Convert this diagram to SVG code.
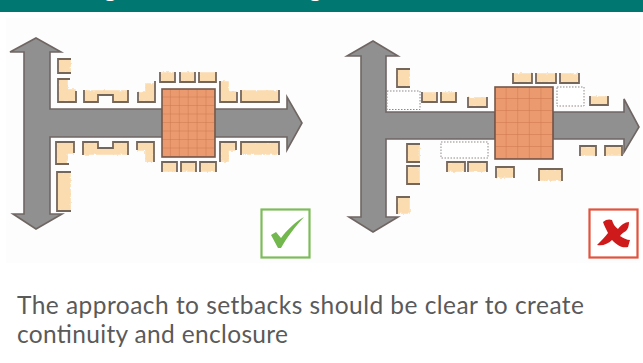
<svg xmlns="http://www.w3.org/2000/svg" width="643" height="363" viewBox="0 0 643 363">
<style>
.road{fill:#909090;stroke:#6f6663;stroke-width:1.6;stroke-linejoin:miter}
.f path{fill:#fbdcb0;stroke:#fbdcb0;stroke-width:1.6}
.s path{fill:none;stroke:#75665c;stroke-width:1.8;stroke-linejoin:miter}
.d{fill:#fff;stroke:#8f8a88;stroke-width:1;stroke-dasharray:1.5 1.5}
.sq{stroke:#75584a;stroke-width:1.6}
.t{font-family:"Lato","Liberation Sans",sans-serif;font-size:24.5px;fill:#5a5a5a}
</style>
<defs>
<filter id="rough" x="-5%" y="-5%" width="110%" height="110%"><feTurbulence type="fractalNoise" baseFrequency="0.3" numOctaves="2" seed="4"/><feDisplacementMap in="SourceGraphic" scale="3" xChannelSelector="R" yChannelSelector="G"/></filter>
<pattern id="g1" patternUnits="userSpaceOnUse" x="162" y="89" width="8.9" height="8.5"><rect width="8.9" height="8.5" fill="#ea9a6e"/><path d="M8.9,0V8.5M0,8.5H8.9" stroke="#c9714c" stroke-width="0.9"/></pattern>
<pattern id="g2" patternUnits="userSpaceOnUse" x="495" y="87" width="11.6" height="12"><rect width="11.6" height="12" fill="#ea9a6e"/><path d="M11.6,0V12M0,12H11.6" stroke="#c9714c" stroke-width="0.9"/></pattern>
</defs>
<rect width="643" height="363" fill="#fff"/>
<rect x="6" y="18" width="634" height="245" fill="#fdfdfd"/>
<rect id="header" width="643" height="12" fill="#007770"/>
<text x="104" y="-3" font-family="Lato,sans-serif" font-size="24" font-weight="700" fill="#fff">g</text>
<text x="309" y="-3" font-family="Lato,sans-serif" font-size="24" font-weight="700" fill="#fff">g</text>

<g id="left-plan">
<path id="left-road" class="road" d="M36,38 L61,52 H50 V109 H287 V97 L302,123 L287,150 V137 H50 V214 H62 L36,229 L13,214 H24 V52 H10 Z"/>
<rect id="left-block" class="sq" x="162" y="89" width="53" height="68" fill="url(#g1)"/>
<g id="left-building-fills" class="f" filter="url(#rough)">
<path d="M59,60 H70 V72 H59 Z"/>
<path d="M59,80 H67 V90 H75 V101 H59 Z"/>
<path d="M85,91 H127 V101 H114 V94 H97 V101 H85 Z"/>
<path d="M139,92 H146 V84 H154 V101 H139 Z"/>
<path d="M161,73 H174 V81 H161 Z"/>
<path d="M181,73 H194 V81 H181 Z"/>
<path d="M200,73 H215 V81 H200 Z"/>
<path d="M221,82 H228 V92 H236 V101 H221 Z"/>
<path d="M242,91 H278 V101 H242 Z"/>
<path d="M57,143 H73 V153 H67 V163 H57 Z"/>
<path d="M58,173 H70 V210 H58 Z"/>
<path d="M84,143 H97 V149 H114 V143 H127 V154 H84 Z"/>
<path d="M138,143 H153 V161 H146 V150 H138 Z"/>
<path d="M221,143 H235 V150 H228 V161 H221 Z"/>
<path d="M242,143 H278 V154 H242 Z"/>
<path d="M163,163 H176 V171 H163 Z"/>
<path d="M182,163 H195 V171 H182 Z"/>
<path d="M201,163 H215 V171 H201 Z"/>
</g>
<g id="left-building-outlines" class="s">
<path d="M71,59 H58 V73 H71"/>
<path d="M70,79 H58 V102 H76 V91"/>
<path d="M84,90 V102 H98 V95 H113 V102 H128 V90"/>
<path d="M138,92 V102 H155 V81"/>
<path d="M160,72 V82 H175 V72"/>
<path d="M180,72 V82 H195 V72"/>
<path d="M199,72 V82 H216 V72"/>
<path d="M220,81 V102 H237 V92"/>
<path d="M241,90 V102 H279 V90"/>
<path d="M74,153 V142 H56 V164 H69"/>
<path d="M71,172 H57 V211 H71"/>
<path d="M83,155 V142 H98 V148 H113 V142 H128 V155"/>
<path d="M137,150 V142 H154 V162"/>
<path d="M220,162 V142 H236 V150"/>
<path d="M241,155 V142 H279 V155"/>
<path d="M162,172 V162 H177 V172"/>
<path d="M181,172 V162 H196 V172"/>
<path d="M200,172 V162 H216 V172"/>
</g>
</g>

<g id="right-plan">
<path id="right-road" class="road" d="M373,41 L398,56 H386 V112 H495 V139 H386 V217 H398 L373,232 L349,217 H361 V56 H347 Z"/>
<path class="road" d="M553,112 H624 V99 L639,127 L624,152 V139 H553 Z"/>
<rect id="right-block" class="sq" x="495" y="87" width="58" height="72" fill="url(#g2)"/>
<rect class="d" x="387" y="91" width="33" height="18.500"/>
<rect class="d" x="557" y="87" width="27" height="19"/>
<rect class="d" x="441" y="142" width="47" height="16"/>
<g id="right-building-fills" class="f" filter="url(#rough)">
<path d="M398,70 H409 V86 H398 Z"/>
<path d="M423,93 H436 V101 H423 Z"/>
<path d="M442,93 H455 V101 H442 Z"/>
<path d="M469,98 H486 V106 H469 Z"/>
<path d="M514,74 H531 V82 H514 Z"/>
<path d="M537,74 H555 V82 H537 Z"/>
<path d="M561,74 H578 V82 H561 Z"/>
<path d="M591,97 H607 V104 H591 Z"/>
<path d="M408,145 H419 V161 H408 Z"/>
<path d="M408,167 H419 V183 H408 Z"/>
<path d="M398,198 H409 V213 H398 Z"/>
<path d="M448,163 H464 V171 H448 Z"/>
<path d="M469,163 H486 V171 H469 Z"/>
<path d="M497,168 H513 V177 H497 Z"/>
<path d="M540,170 H561 V180 H540 Z"/>
<path d="M581,147 H595 V155 H581 Z"/>
<path d="M606,147 H621 V155 H606 Z"/>
</g>
<g id="right-building-outlines" class="s">
<path d="M410,69 H397 V87 H410"/>
<path d="M422,92 V102 H437 V92"/>
<path d="M441,92 V102 H456 V92"/>
<path d="M468,97 V107 H487 V97"/>
<path d="M513,73 V83 H532 V73"/>
<path d="M536,73 V83 H556 V73"/>
<path d="M560,73 V83 H579 V73"/>
<path d="M590,96 V105 H608 V96"/>
<path d="M420,144 H407 V162 H420"/>
<path d="M420,166 H407 V184 H420"/>
<path d="M410,197 H397 V214"/>
<path d="M447,172 V162 H465 V172"/>
<path d="M468,172 V162 H487 V172"/>
<path d="M496,178 V167 H514 V178"/>
<path d="M539,181 V169 H562 V181"/>
<path d="M580,156 V146 H596 V156"/>
<path d="M605,156 V146 H622 V156"/>
</g>
</g>

<g id="tick">
<rect x="261.500" y="209.500" width="48" height="48" fill="#fff" stroke="#7dbc5c" stroke-width="2.200"/>
<path d="M271,235 L276,232 L281,238 C287,230 295,222 304,217 C296,226 287,237 281,248 L278,248 Z" fill="#73b84f"/>
</g>
<g id="cross">
<rect x="589.500" y="209.500" width="48" height="48" fill="#fff" stroke="#e0533d" stroke-width="2.200"/>
<path d="M603,222 C606,219 610,219 612,220 C613,224 615,227 618,229 C621,225 625,222 629,222 C629,226 628,229 626,231 C623,233 621,234 620,236 C623,238 627,240 630,240 L628,247 C623,248 619,247 612,240 C608,244 603,246 597,245 C601,241 605,237 608,233 C606,229 604,225 603,222 Z" fill="#cf1a1c"/>
</g>

<text class="t" x="17" y="314" textLength="567" lengthAdjust="spacing">The approach to setbacks should be clear to create</text>
<text class="t" x="17" y="343" textLength="271" lengthAdjust="spacing">continuity and enclosure</text>
</svg>
